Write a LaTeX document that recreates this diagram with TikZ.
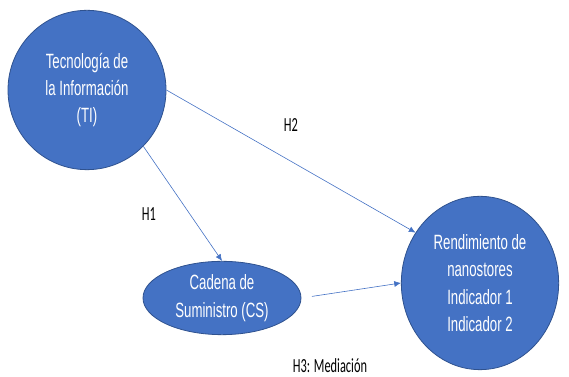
\documentclass[tikz,border=0pt]{standalone}
\usepackage{fontspec}
\setmainfont{Liberation Sans}
\newfontfamily\nodefont[FakeStretch=0.64]{Liberation Sans}
\newfontfamily\labelfont[FakeStretch=0.62]{Carlito}
\usetikzlibrary{arrows.meta,positioning,shapes.geometric}
\definecolor{azul}{HTML}{4472C4}
\definecolor{borde}{HTML}{2F528F}

\begin{document}
\begin{tikzpicture}[
x=0.75pt, y=-0.75pt,
constructo/.style={
ellipse,
draw=borde,
fill=azul,
line width=0.6pt,
inner sep=0pt,
align=center,
text=white,
font=\nodefont\fontsize{15.5}{20.5}\selectfont
},
seta/.style={-{Latex[length=5pt,width=4.5pt]}, draw=azul, line width=0.45pt},
etiqueta/.style={font=\labelfont\fontsize{15}{16}\selectfont}
]
\useasboundingbox (0,0) rectangle (569,377);
\node[constructo, minimum width=118.5pt, minimum height=119.5pt] (ti) at (87,90) {Tecnología de\\la Información\\(TI)};
\node[constructo, minimum width=118.5pt, minimum height=55pt] (cs) at (222,298) {Cadena de\\Suministro (CS)};
\node[constructo, minimum width=118pt, minimum height=130pt] (rend) at (480,283) {Rendimiento de\\nanostores\\Indicador 1\\Indicador 2};

\node[etiqueta] (h1) at (149,214) {H1};
\node[etiqueta] (h2) at (291,125) {H2};
\node[etiqueta] (h3) at (330,366) {H3: Mediación};

\draw[seta] (ti.-45) -- (cs.north);
\draw[seta] (ti.east) -- (rend.142);
\draw[seta, shorten <=8pt] (cs.east) -- (rend.west);
\end{tikzpicture}
\end{document}
